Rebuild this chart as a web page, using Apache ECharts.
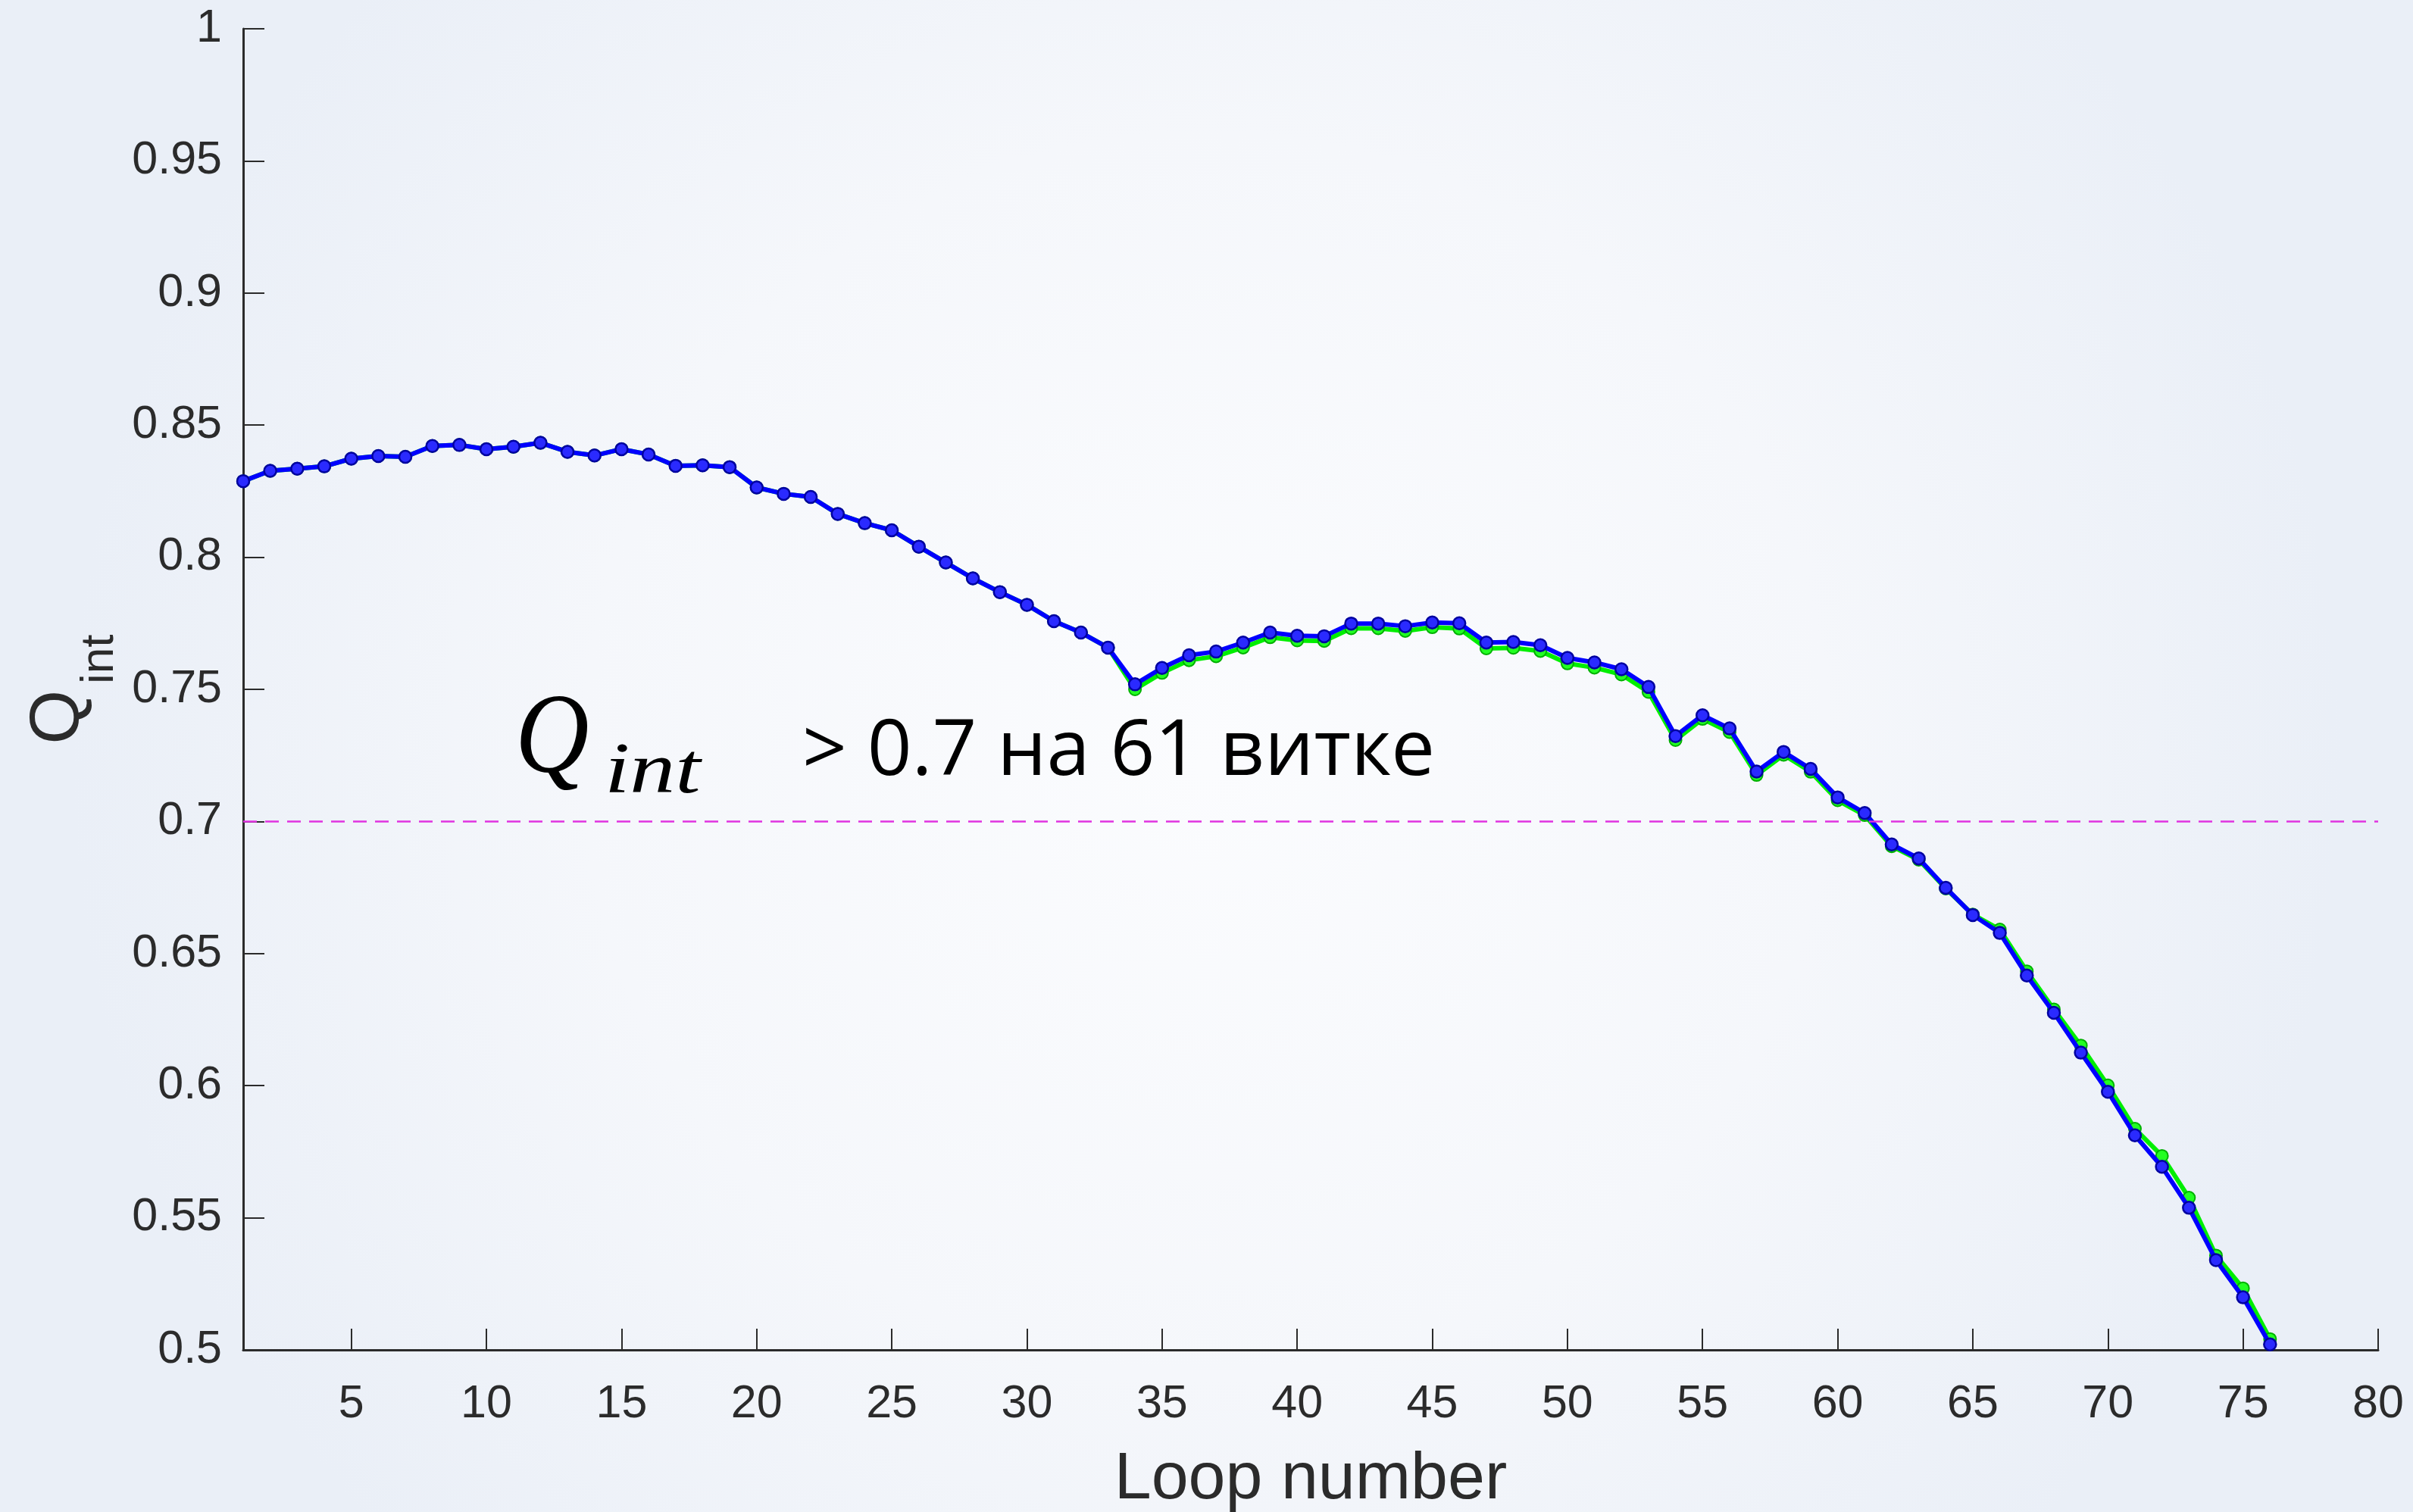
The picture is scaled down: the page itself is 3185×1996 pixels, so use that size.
<!DOCTYPE html>
<html>
<head>
<meta charset="utf-8">
<script src="https://cdn.jsdelivr.net/npm/echarts@6/dist/echarts.min.js"></script>
<style>
html,body{margin:0;padding:0;background:#f3f6fa;}
#chart{width:3185px;height:1996px;}
</style>
</head>
<body>
<div id="chart"></div>
<script>
// ---- data ----
const loops = [1,2,3,4,5,6,7,8,9,10,11,12,13,14,15,16,17,18,19,20,21,22,23,24,25,26,27,28,29,30,31,32,33,34,35,36,37,38,39,40,41,42,43,44,45,46,47,48,49,50,51,52,53,54,55,56,57,58,59,60,61,62,63,64,65,66,67,68,69,70,71,72,73,74,75,76];
const qBlue = [0.8288,0.8327,0.8335,0.8344,0.8373,0.8383,0.8380,0.8421,0.8425,0.8409,0.8418,0.8433,0.8399,0.8385,0.8409,0.8389,0.8346,0.8348,0.8341,0.8264,0.8240,0.8228,0.8164,0.8129,0.8102,0.8040,0.7980,0.7920,0.7868,0.7820,0.7758,0.7715,0.7658,0.7519,0.7581,0.7629,0.7643,0.7677,0.7715,0.7703,0.7701,0.7749,0.7749,0.7739,0.7753,0.7750,0.7677,0.7679,0.7667,0.7619,0.7602,0.7576,0.7509,0.7323,0.7402,0.7352,0.7189,0.7263,0.7199,0.7091,0.7032,0.6913,0.6860,0.6749,0.6646,0.6578,0.6417,0.6276,0.6125,0.5977,0.5812,0.5693,0.5538,0.5340,0.5199,0.5021];
const qGreen = [0.8288,0.8327,0.8335,0.8344,0.8373,0.8383,0.8380,0.8421,0.8425,0.8409,0.8418,0.8433,0.8399,0.8385,0.8409,0.8389,0.8346,0.8348,0.8341,0.8264,0.8240,0.8228,0.8164,0.8129,0.8102,0.8040,0.7980,0.7920,0.7868,0.7820,0.7758,0.7715,0.7658,0.7500,0.7562,0.7610,0.7625,0.7658,0.7697,0.7685,0.7683,0.7731,0.7731,0.7721,0.7735,0.7730,0.7655,0.7657,0.7645,0.7598,0.7582,0.7556,0.7490,0.7308,0.7388,0.7338,0.7176,0.7252,0.7188,0.7080,0.7024,0.6906,0.6855,0.6746,0.6648,0.6591,0.6433,0.6289,0.6152,0.6001,0.5837,0.5734,0.5576,0.5357,0.5233,0.5041];
const xTicks = [5,10,15,20,25,30,35,40,45,50,55,60,65,70,75,80];
const threshold = 0.7;
const annotationText = '> 0.7 на 61 витке';

const pairs = (xs, ys) => xs.map((x, i) => [x, ys[i]]);

const chart = echarts.init(document.getElementById('chart'));
const axisColor = '#2b2b2b';
const labelFont = '"Liberation Sans", Arial, sans-serif';

chart.setOption({
  backgroundColor: new echarts.graphic.RadialGradient(0.5, 0.5, 0.75, [
    {offset: 0, color: '#fbfcfe'},
    {offset: 0.55, color: '#f5f7fb'},
    {offset: 1, color: '#eaeff7'}
  ]),
  animation: false,
  grid: {left: 321, right: 46, top: 38, bottom: 214, containLabel: false, outerBoundsMode: 'none'},
  xAxis: {
    type: 'value', min: 1, max: 80,
    name: 'Loop number', nameLocation: 'middle', nameGap: 128,
    nameTextStyle: {fontFamily: labelFont, fontSize: 88, color: axisColor},
    axisLine: {show: true, lineStyle: {color: axisColor, width: 3}},
    axisTick: {show: true, inside: true, length: 28, lineStyle: {color: axisColor, width: 2}, customValues: xTicks},
    axisLabel: {fontFamily: labelFont, fontSize: 61, color: axisColor, margin: 42, customValues: xTicks},
    splitLine: {show: false}
  },
  yAxis: {
    type: 'value', min: 0.5, max: 1, interval: 0.05,
    name: '{q|Q}{s|int}', nameLocation: 'middle', nameRotate: 90, nameGap: 168,
    nameTextStyle: {
      rich: {
        q: {fontFamily: labelFont, fontSize: 92, lineHeight: 92, color: axisColor, verticalAlign: 'top', padding: [0, 8, 0, 0]},
        s: {fontFamily: labelFont, fontSize: 62, lineHeight: 62, color: axisColor, verticalAlign: 'top', padding: [70, 0, 0, 0]}
      }
    },
    axisLine: {show: true, lineStyle: {color: axisColor, width: 3}},
    axisTick: {show: true, inside: true, length: 28, lineStyle: {color: axisColor, width: 2}},
    axisLabel: {fontFamily: labelFont, fontSize: 61, color: axisColor, margin: 28},
    splitLine: {show: false}
  },
  series: [
    {
      name: 'green', type: 'line', data: pairs(loops, qGreen), z: 2, clip: false,
      symbol: 'circle', symbolSize: 16,
      lineStyle: {color: '#00ee00', width: 6},
      itemStyle: {color: '#22ff22', borderColor: '#00b000', borderWidth: 2}
    },
    {
      name: 'blue', type: 'line', data: pairs(loops, qBlue), z: 3, clip: false,
      symbol: 'circle', symbolSize: 16,
      lineStyle: {color: '#0000ff', width: 6},
      itemStyle: {color: '#2a2aff', borderColor: '#0000a0', borderWidth: 2.5},
      markLine: {
        silent: true, symbol: ['none', 'none'], label: {show: false},
        lineStyle: {color: '#e033e0', width: 2.5, type: [18, 11]},
        data: [{yAxis: threshold}]
      }
    }
  ],
  graphic: [
    {type: 'text', left: 680, top: 905, z: 10, scaleX: 0.9,
     style: {text: 'Q', font: 'italic 150px "Liberation Serif", "DejaVu Serif", serif', fill: '#000'}},
    {type: 'text', left: 798, top: 973, z: 10, scaleX: 1.25,
     style: {text: 'int', font: 'italic 96px "Liberation Serif", "DejaVu Serif", serif', fill: '#000'}},
    {type: 'text', left: 1059, top: 942, z: 10,
     style: {text: annotationText, font: '103px "Open Sans", "Noto Sans", sans-serif', fill: '#000'}}
  ]
});
</script>
</body>
</html>
